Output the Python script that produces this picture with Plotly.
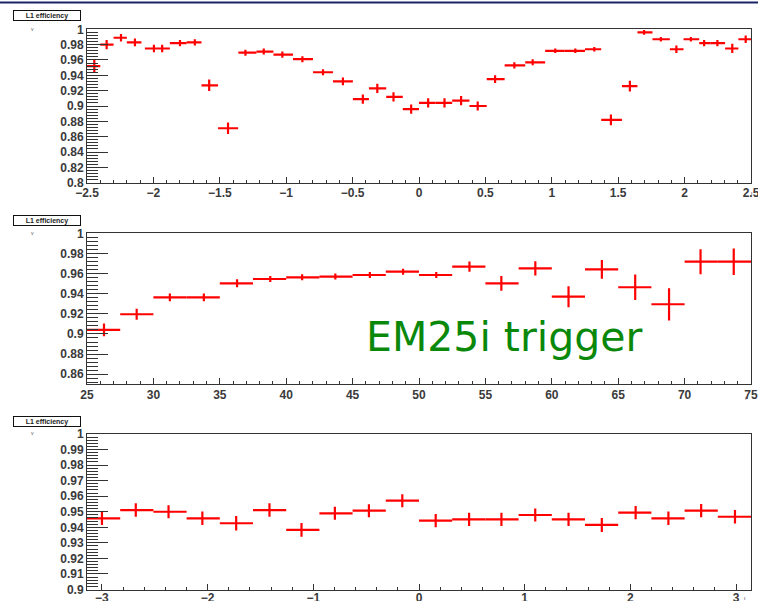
import math
import plotly.graph_objects as go

# ---------------- data ----------------
# top panel: efficiency vs eta
eta_x = [-2.445, -2.352, -2.244, -2.139, -1.996, -1.934, -1.80, -1.688, -1.580, -1.438,
         -1.307, -1.169, -1.029, -0.878, -0.723, -0.573, -0.423, -0.314, -0.192, -0.059,
         0.069, 0.192, 0.317, 0.442, 0.573, 0.718, 0.856, 1.026, 1.177, 1.320,
         1.445, 1.588, 1.695, 1.821, 1.938, 2.047, 2.147, 2.247, 2.359, 2.460]
eta_lo = [-2.5, -2.4, -2.3, -2.2, -2.064, -1.966, -1.876, -1.75, -1.638, -1.513,
          -1.36, -1.224, -1.096, -0.949, -0.798, -0.648, -0.498, -0.377, -0.247, -0.122,
          0.0, 0.125, 0.25, 0.38, 0.51, 0.645, 0.80, 0.95, 1.094, 1.25,
          1.372, 1.528, 1.645, 1.758, 1.889, 1.992, 2.11, 2.197, 2.305, 2.405]
eta_hi = [-2.4, -2.3, -2.2, -2.09, -1.966, -1.876, -1.75, -1.638, -1.513, -1.362,
          -1.224, -1.096, -0.949, -0.798, -0.648, -0.498, -0.377, -0.247, -0.122, 0.0,
          0.125, 0.25, 0.38, 0.51, 0.645, 0.80, 0.95, 1.094, 1.25, 1.372,
          1.528, 1.645, 1.758, 1.889, 1.992, 2.11, 2.197, 2.305, 2.405, 2.5]
eta_eff = [0.952, 0.980, 0.989, 0.983, 0.975, 0.975, 0.982, 0.983, 0.927, 0.871,
           0.9695, 0.971, 0.967, 0.961, 0.944, 0.932, 0.909, 0.923, 0.912, 0.896,
           0.904, 0.904, 0.907, 0.900, 0.935, 0.953, 0.957, 0.972, 0.972, 0.974,
           0.882, 0.926, 0.996, 0.987, 0.974, 0.987, 0.982, 0.982, 0.975, 0.987]
eta_err = [0.009, 0.006, 0.005, 0.005, 0.005, 0.005, 0.004, 0.004, 0.0075, 0.0076,
           0.004, 0.004, 0.004, 0.004, 0.004, 0.005, 0.006, 0.006, 0.006, 0.006,
           0.006, 0.006, 0.006, 0.006, 0.005, 0.004, 0.004, 0.003, 0.003, 0.003,
           0.007, 0.007, 0.003, 0.003, 0.005, 0.003, 0.004, 0.004, 0.006, 0.005]

# middle panel: efficiency vs ET
et_x = [26.28, 28.74, 31.24, 33.8, 36.3, 38.8, 41.2, 43.7, 46.3, 48.8,
        51.3, 53.8, 56.2, 58.76, 61.26, 63.77, 66.28, 68.83, 71.2, 73.7]
et_lo = [25.0, 27.5, 30.0, 32.5, 35.0, 37.5, 40.0, 42.5, 45.0, 47.5,
         50.0, 52.5, 55.0, 57.5, 60.0, 62.5, 65.0, 67.5, 70.0, 72.5]
et_hi = [27.5, 30.0, 32.5, 35.0, 37.5, 40.0, 42.5, 45.0, 47.5, 50.0,
         52.5, 55.0, 57.5, 60.0, 62.5, 65.0, 67.5, 70.0, 72.5, 75.0]
et_eff = [0.904, 0.9196, 0.9364, 0.9364, 0.9503, 0.9546, 0.9563, 0.957, 0.9586, 0.9619,
          0.9586, 0.9669, 0.9503, 0.9652, 0.937, 0.9642, 0.9464, 0.9295, 0.9718, 0.9718]
et_err = [0.0063, 0.0055, 0.0038, 0.0038, 0.004, 0.003, 0.003, 0.003, 0.003, 0.003,
          0.003, 0.005, 0.0073, 0.007, 0.0104, 0.0093, 0.0126, 0.016, 0.0124, 0.0132]

# bottom panel: efficiency vs phi (20 bins from -pi to pi)
phi_x = [-3.0, -2.68, -2.37, -2.05, -1.73, -1.415, -1.112, -0.796, -0.474, -0.158,
         0.158, 0.474, 0.78, 1.10, 1.415, 1.73, 2.05, 2.36, 2.67, 2.99]
phi_eff = [0.9458, 0.9511, 0.950, 0.9458, 0.9426, 0.9511, 0.9383, 0.949, 0.9507, 0.9571,
           0.9443, 0.9451, 0.9451, 0.9479, 0.9451, 0.9415, 0.9494, 0.9458, 0.9507, 0.9468]
phi_err = [0.0043, 0.0043, 0.0042, 0.0043, 0.0047, 0.0043, 0.0044, 0.0042, 0.0042, 0.0042,
           0.0043, 0.0043, 0.0043, 0.0042, 0.0043, 0.0045, 0.0043, 0.0043, 0.0043, 0.0043]
PI = math.pi
phi_lo = [-PI + i * PI / 10 for i in range(20)]
phi_hi = [-PI + (i + 1) * PI / 10 for i in range(20)]

label_text = "L1 efficiency"
big_text = "EM25i trigger"

# ---------------- figure ----------------
W, H = 758, 601
RED = "#ff0000"
AX = "#333333"

fig = go.Figure()


def add_panel(xs, lo, hi, ys, es, n):
    xa = "x" if n == 1 else f"x{n}"
    ya = "y" if n == 1 else f"y{n}"
    fig.add_trace(go.Scatter(
        x=xs, y=ys, mode="markers", xaxis=xa, yaxis=ya,
        marker=dict(size=1, color=RED),
        error_x=dict(type="data", symmetric=False,
                     array=[h - x for h, x in zip(hi, xs)],
                     arrayminus=[x - l for x, l in zip(xs, lo)],
                     color=RED, thickness=2.2, width=0),
        error_y=dict(type="data", array=es, color=RED, thickness=2.2, width=0),
        showlegend=False, hoverinfo="skip"))


add_panel(eta_x, eta_lo, eta_hi, eta_eff, eta_err, 1)
add_panel(et_x, et_lo, et_hi, et_eff, et_err, 2)
add_panel(phi_x, phi_lo, phi_hi, phi_eff, phi_err, 3)

x0, x1 = 87 / W, 751 / W


def ydom(top_px, bot_px):
    return [1 - bot_px / H, 1 - top_px / H]


tickfont = dict(family="Liberation Sans, Arial", size=12, color="#3a3a3a", weight="bold")


def xaxis(rng, dtick, mdtick, anchor, standoff, tick0=0):
    return dict(domain=[x0, x1], range=rng, anchor=anchor, showgrid=False, zeroline=False,
                automargin=False, ticklabeloverflow="allow", ticklabelstandoff=standoff,
                showline=True, linecolor=AX, linewidth=1, mirror=True,
                ticks="inside", ticklen=6, tickcolor=AX, tickwidth=1,
                dtick=dtick, tick0=tick0, tickfont=tickfont,
                minor=dict(ticks="inside", ticklen=3, dtick=mdtick, tickcolor=AX, showgrid=False))


def yaxis(rng, dtick, mdtick, dom, anchor):
    return dict(domain=dom, range=rng, anchor=anchor, showgrid=False, zeroline=False,
                automargin=False, ticklabeloverflow="allow",
                showline=True, linecolor=AX, linewidth=1, mirror=True,
                ticks="inside", ticklen=21, tickcolor=AX, tickwidth=1,
                dtick=dtick, tick0=0, tickfont=tickfont,
                minor=dict(ticks="inside", ticklen=11, dtick=mdtick, tickcolor=AX, showgrid=False))


fig.update_layout(
    width=W, height=H, margin=dict(l=0, r=0, t=0, b=0, autoexpand=False),
    paper_bgcolor="white", plot_bgcolor="white",
    xaxis=xaxis([-2.5, 2.5], 0.5, 0.1, "y", -1),
    yaxis=yaxis([0.8, 1.0], 0.02, 0.004, ydom(29.3, 182.7), "x"),
    xaxis2=xaxis([25, 75], 5, 1, "y2", -1),
    yaxis2=yaxis([0.85, 1.0], 0.02, 0.004, ydom(233.3, 384.3), "x2"),
    xaxis3=xaxis([-PI, PI], 1, 0.2, "y3", -3),
    yaxis3=yaxis([0.9, 1.0], 0.01, 0.002, ydom(434, 589.5), "x3"),
)

# navy line at top of the slide
fig.add_shape(type="line", xref="paper", yref="paper", x0=0, x1=1,
              y0=1 - 2.5 / H, y1=1 - 2.5 / H, line=dict(color="#1a2466", width=2))

# "L1 efficiency" title boxes and tiny axis titles
for cy, dy in [(16, 29.3), (220, 232.7), (421.7, 433.3)]:
    fig.add_annotation(xref="paper", yref="paper", x=47.2 / W, y=1 - cy / H,
                       text=f"<b>{label_text}</b>", showarrow=False,
                       font=dict(family="Liberation Sans, Arial", size=7, color="#222"),
                       width=66, height=9, bordercolor="#111", borderwidth=1,
                       bgcolor="white", borderpad=0, xanchor="center", yanchor="middle")
    fig.add_annotation(xref="paper", yref="paper", x=32.7 / W, y=1 - dy / H,
                       text="v", showarrow=False,
                       font=dict(family="Liberation Sans, Arial", size=5, color="#555"),
                       xanchor="center", yanchor="middle")

for tx, ty in [(752, 193), (746, 398), (745, 598)]:
    fig.add_annotation(xref="paper", yref="paper", x=tx / W, y=1 - ty / H,
                       text="ι", showarrow=False,
                       font=dict(family="Liberation Sans, Arial", size=6, color="#444"),
                       xanchor="center", yanchor="middle")

# green label
fig.add_annotation(xref="paper", yref="paper", x=364 / W, y=1 - 337 / H,
                   text=big_text, showarrow=False,
                   font=dict(family="DejaVu Sans", size=41, color="#0a880a"),
                   xanchor="left", yanchor="middle")

fig.write_html("out.html")
